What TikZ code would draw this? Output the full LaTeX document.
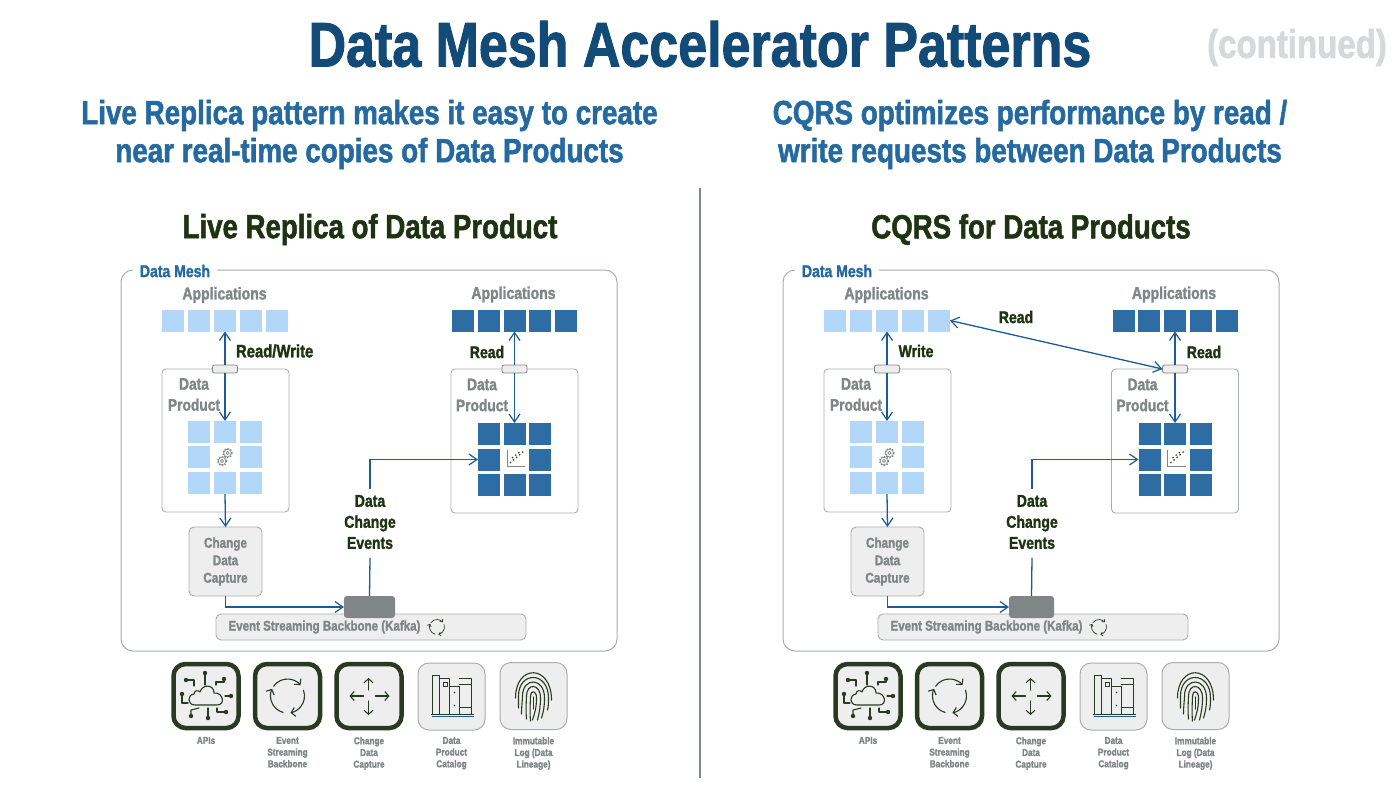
\documentclass[tikz,border=0pt]{standalone}
\usepackage{fontspec}
\usetikzlibrary{arrows.meta}
\newfontfamily\cond[FakeStretch=0.825,FakeBold=1.5]{Liberation Sans}
\definecolor{lightsq}{HTML}{B3D7F9}
\definecolor{darksq}{HTML}{2E6DA3}
\definecolor{linecol}{HTML}{1B5C96}
\definecolor{titleblue}{HTML}{134B78}
\definecolor{subblue}{HTML}{2569A1}
\definecolor{greentext}{HTML}{1E3312}
\definecolor{greytext}{HTML}{808585}
\definecolor{edgegrey}{HTML}{A9AEB2}
\definecolor{panelfill}{HTML}{EEEEEE}
\definecolor{icondark}{HTML}{2A3A22}
\definecolor{contgrey}{HTML}{D6D9DB}
\tikzset{
  x=1pt,y=-1pt,
  every node/.style={inner sep=0pt,outer sep=0pt},
  tx/.style={font=\cond\bfseries,align=center},
  titletext/.style={tx,font=\cond\bfseries\fontsize{63}{63}\selectfont,text=titleblue},
  subtext/.style={tx,font=\cond\bfseries\fontsize{33.7}{38}\selectfont,text=subblue},
  headtext/.style={tx,font=\cond\bfseries\fontsize{33.5}{38}\selectfont,text=greentext},
  meshlabel/.style={tx,font=\cond\bfseries\fontsize{17}{18}\selectfont,text=subblue,fill=white,inner xsep=7pt,inner ysep=1pt},
  applabel/.style={tx,font=\cond\bfseries\fontsize{17}{19}\selectfont,text=greytext},
  dplabel/.style={tx,font=\cond\bfseries\fontsize{16.7}{21}\selectfont,text=greytext},
  flowlabel/.style={tx,font=\cond\bfseries\fontsize{17}{21}\selectfont,text=greentext},
  cdctext/.style={tx,font=\cond\bfseries\fontsize{14.2}{17.5}\selectfont,text=greytext},
  captext/.style={tx,font=\cond\bfseries\fontsize{10}{11.7}\selectfont,text=greytext},
  lsq/.style={fill=lightsq,minimum size=22pt},
  dsq/.style={fill=darksq,minimum size=22pt},
  dpbox/.style={draw=edgegrey,line width=.9pt,rounded corners=4pt,fill=white},
  pill/.style={draw=greytext,fill=panelfill,line width=.8pt,rounded corners=2pt,minimum width=25pt,minimum height=8pt},
  graybox/.style={draw=edgegrey,line width=.9pt,fill=panelfill,rounded corners=5pt},
  block/.style={fill=greytext,rounded corners=3pt,minimum height=22pt},
  flow/.style={draw=linecol,line width=1.3pt,>={Straight Barb[length=8pt,width=11pt,line width=1.2pt]}},
  icobold/.style={draw=icondark,line width=4.5pt,fill=panelfill,rounded corners=12pt,minimum width=65pt,minimum height=64pt},
  icothin/.style={draw=edgegrey,line width=1pt,fill=panelfill,rounded corners=11pt,minimum width=67pt,minimum height=67pt},
  ink/.style={draw=icondark,line width=1.1pt,line cap=round,line join=round},
  dotink/.style={fill=icondark},
  cyc/.style={ink,>={Straight Barb[length=4pt,width=9pt,line width=1.1pt]}},
  cycsmall/.style={ink,line width=.7pt,>={Straight Barb[length=2pt,width=4pt,line width=.7pt]}},
}
% ---------- icon artwork, drawn round the origin
\newcommand{\apiart}{%
  \draw[ink] (-11,9) .. controls (-19,9) and (-19,-1) .. (-12,-2)
     .. controls (-12,-6) and (-7,-6) .. (-6,-4) .. controls (-4,-12) and (8,-12) .. (8,-3)
     .. controls (17,-4) and (20,9) .. (11,9) -- cycle;
  \draw[ink] (-1,-11)--(-1,-23); \fill[dotink] (-1,-23) circle (2.2);
  \draw[ink] (10,-11)--(10,-14)--(18,-14)--(18,-17); \fill[dotink] (18,-17) circle (2.2);
  \draw[ink] (19,0)--(25,0); \fill[dotink] (25,0) circle (2.2);
  \draw[ink] (11,12)--(11,16)--(20,16); \fill[dotink] (20,16) circle (2.2);
  \draw[ink] (2,12)--(2,22); \fill[dotink] (2,22) circle (2.2);
  \draw[ink] (-7,12)--(-15,14)--(-15,20); \fill[dotink] (-15,20) circle (2.2);
  \draw[ink] (-18,7)--(-24,7)--(-24,-2); \fill[dotink] (-24,-2) circle (2.2);
  \draw[ink] (-12,-10)--(-12,-16)--(-20,-16); \fill[dotink] (-20,-16) circle (2.2);
}
\newcommand{\cycleart}[2]{%
  \draw[#2,->] (-145:#1) arc[start angle=-145,end angle=-40,radius=#1];
  \draw[#2,->] (-20:#1) arc[start angle=-20,end angle=80,radius=#1];
  \draw[#2,->] (105:#1) arc[start angle=105,end angle=205,radius=#1];
}
\newcommand{\moveart}{%
  \draw[cyc,->] (0,-6)--(0,-18);
  \draw[cyc,->] (0,5)--(0,19);
  \draw[cyc,->] (-5,0)--(-19,0);
  \draw[cyc,->] (7,0)--(21,0);
}
\newcommand{\bookart}{%
  \draw[ink] (-19,17)--(-19,-21)--(-12,-21)--(-12,17);
  \draw[ink] (-12,-18)--(-2,-18)--(-2,17);
  \draw[ink] (-8,-14) rectangle (-4,-10);
  \draw[ink] (-2,-10)--(8,-10)--(8,17);
  \fill[dotink] (3,-4) circle (.9) (3,9) circle (.9);
  \draw[ink] (8,-18)--(20,-18)--(20,17);
  \draw[ink] (8,-12)--(20,-12) (8,11)--(20,11);
  \draw[draw=linecol,line width=1.1pt] (-20,20)--(22,20);
  \draw[ink] (-20,18)--(22,18);
}
\newcommand{\fingerart}{%
  \draw[ink] (-18,2) .. controls (-18,-32) and (18,-32) .. (18,4);
  \draw[ink] (-15,12) .. controls (-15,6) and (-15,4) .. (-15,0) .. controls (-15,-25) and (15,-25) .. (15,2) .. controls (15,6) and (15,10) .. (14,14);
  \draw[ink] (-12,18) .. controls (-12,10) and (-11,4) .. (-11,0) .. controls (-11,-19) and (11,-19) .. (11,2) .. controls (11,10) and (10,16) .. (8,22);
  \draw[ink] (-7,23) .. controls (-8,12) and (-7,5) .. (-7,0) .. controls (-7,-13) and (7,-13) .. (7,2) .. controls (7,10) and (6,16) .. (4,24);
  \draw[ink] (-3,25) .. controls (-4,14) and (-3,5) .. (-3,0) .. controls (-3,-6) and (3,-6) .. (3,2) .. controls (3,12) and (1,18) .. (-1,24);
  \draw[ink] (0,1)--(0,13);
}
\newcommand{\gearart}{%
  \foreach \gx/\gy in {2.5/-4,-3/4}{
    \draw[greytext,line width=.6pt] (\gx,\gy) circle (1.6);
    \draw[greytext,line width=.6pt] (\gx,\gy) circle (3.8);
    \draw[greytext,line width=1.2pt,dash pattern=on 1.4pt off 1.6pt] (\gx,\gy) circle (4.6);
  }
}
\newcommand{\chartart}{%
  \draw[greytext,line width=.8pt] (-8,-9)--(-8,7)--(10,7);
  \draw[icondark,line width=1.2pt,dash pattern=on 1.4pt off 2.6pt] (-5,4)--(9,-8);
  \draw[icondark,line width=1.2pt,dash pattern=on 1.4pt off 2.6pt] (-3,-1)--(6,-8);
}
% ---------- one panel: #1 prefix, #2 x offset, #3 extra offset of the right-hand product, #4 block left, #5 block width
\newcommand{\meshpanel}[5]{%
 \begin{scope}[xshift=#2pt]
  \draw[edgegrey,line width=1pt,rounded corners=12pt] (121,270) rectangle (617,651);
  \node[meshlabel] (#1mesh) at (175,271) {Data Mesh};
  % consumer side
  \node[applabel] (#1applabelA) at (224.5,295) {Applications};
  \foreach \n/\x in {1/173,2/199,3/225,4/251,5/277}
    \node[lsq] (#1la\n) at (\x,320.5) {};
  \node[dpbox,minimum width=127pt,minimum height=143pt] (#1dpA) at (225.5,440.5) {};
  \node[dplabel] (#1dpAlabel) at (194,394.5) {Data\\Product};
  \foreach \r/\y in {1/432,2/457,3/483}
    \foreach \c/\x in {1/199,2/225,3/251}{
      \ifnum\r\c=22\else\node[lsq] (#1lg\r\c) at (\x,\y) {};\fi
    }
  \begin{scope}[shift={(225,457)}]\gearart\end{scope}
  \node[pill] (#1pillA) at (225,369) {};
  \draw[flow,->] (#1pillA.north) -- (#1la3.south);
  \draw[flow,->] (#1pillA.south) -- (#1lg12.north);
  % CDC + backbone
  \node[graybox,minimum width=73pt,minimum height=69pt] (#1cdc) at (225.5,561.5) {};
  \node[cdctext] (#1cdclabel) at (225.5,561.5) {Change\\Data\\Capture};
  \node[graybox,minimum width=310pt,minimum height=26pt] (#1kafka) at (371,627) {};
  \node[tx,font=\cond\bfseries\fontsize{14}{16}\selectfont,text=greytext] (#1kafkalabel) at (324.5,627) {Event Streaming Backbone (Kafka)};
  \begin{scope}[shift={(437,627)}]\cycleart{7.5}{cycsmall}\end{scope}
  \node[block,minimum width=#5pt,anchor=west] (#1block) at (#4,607) {};
  \draw[flow,->] (#1lg32.south) -- (#1cdc.north);
  \draw[flow,->] (#1cdc.south) |- (#1block.west);
  % producer side
  \begin{scope}[xshift=#3pt]
   \node[applabel] (#1applabelB) at (513.5,294.5) {Applications};
   \foreach \n/\x in {1/463,2/488.8,3/514.5,4/540.2,5/566}
     \node[dsq] (#1da\n) at (\x,320.5) {};
   \node[dpbox,minimum width=127pt,minimum height=144pt] (#1dpB) at (514.5,441) {};
   \node[dplabel] (#1dpBlabel) at (482,395) {Data\\Product};
   \foreach \r/\y in {1/434,2/459.5,3/485}
     \foreach \c/\x in {1/489,2/514.5,3/540}{
       \ifnum\r\c=22\else\node[dsq] (#1dg\r\c) at (\x,\y) {};\fi
     }
   \begin{scope}[shift={(515,459)}]\chartart\end{scope}
   \node[pill] (#1pillB) at (514.5,369) {};
   \draw[flow,->] (#1pillB.north) -- (#1da3.south);
   \draw[flow,->] (#1pillB.south) -- (#1dg12.north);
  \end{scope}
  \node[flowlabel,inner ysep=6pt] (#1ev) at (370,522) {Data\\Change\\Events};
  \draw[flow] (#1block.north) -- ([yshift=-3pt]#1ev.south);
  \draw[flow,->] (#1ev.north) |- (#1dg21.west);
  % legend
  \node[icobold] (#1i1) at (206,696) {};
  \node[icobold] (#1i2) at (287.5,696) {};
  \node[icobold] (#1i3) at (369,696) {};
  \node[icothin] (#1i4) at (451.5,696.5) {};
  \node[icothin] (#1i5) at (533.5,696) {};
  \begin{scope}[shift={(206,696)}]\apiart\end{scope}
  \begin{scope}[shift={(287.5,696)}]\cycleart{17}{cyc}\end{scope}
  \begin{scope}[shift={(368.5,696)}]\moveart\end{scope}
  \begin{scope}[shift={(451.5,696.5)}]\bookart\end{scope}
  \begin{scope}[shift={(533.5,696)}]\fingerart\end{scope}
  \node[captext,anchor=north] (#1c1) at (206,737) {APIs};
  \node[captext,anchor=north] (#1c2) at (287.5,737) {Event\\Streaming\\Backbone};
  \node[captext,anchor=north] (#1c3) at (369,737) {Change\\Data\\Capture};
  \node[captext,anchor=north] (#1c4) at (451.5,737) {Data\\Product\\Catalog};
  \node[captext,anchor=north] (#1c5) at (533.5,737) {Immutable\\Log (Data\\Lineage)};
 \end{scope}}
\begin{document}
\begin{tikzpicture}
\useasboundingbox (0,0) rectangle (1400,788);
\fill[white] (0,0) rectangle (1400,788);
\node[titletext] (title) at (700,44) {Data Mesh Accelerator Patterns};
\node[tx,font=\cond\bfseries\fontsize{40}{40}\selectfont,text=contgrey] (cont) at (1297,47.5) {(continued)};
\node[subtext] (subL) at (369.5,134.5) {Live Replica pattern makes it easy to create\\near real-time copies of Data Products};
\node[subtext] (subR) at (1030,134.5) {CQRS optimizes performance by read /\\write requests between Data Products};
\node[headtext] (headL) at (370,229.5) {Live Replica of Data Product};
\node[headtext] (headR) at (1031,229.5) {CQRS for Data Products};
\coordinate (divtop) at (700,188);
\coordinate (divbot) at (700,778);
\draw[greytext,line width=1.4pt] (divtop) -- (divbot);
\meshpanel{L}{0}{0}{344}{51}
\meshpanel{R}{662}{-1.5}{347}{45}
\node[flowlabel,anchor=west,font=\cond\bfseries\fontsize{18}{21}\selectfont] (rw) at (236,351) {Read/Write};
\node[flowlabel] (rdL) at (487,352) {Read};
\node[flowlabel] (wr) at (916,351) {Write};
\node[flowlabel] (rdR) at (1204,352) {Read};
\node[flowlabel] (rdD) at (1016,317) {Read};
\draw[flow,<->] (Rla5.east) -- (RpillB.west);
\end{tikzpicture}
\end{document}
